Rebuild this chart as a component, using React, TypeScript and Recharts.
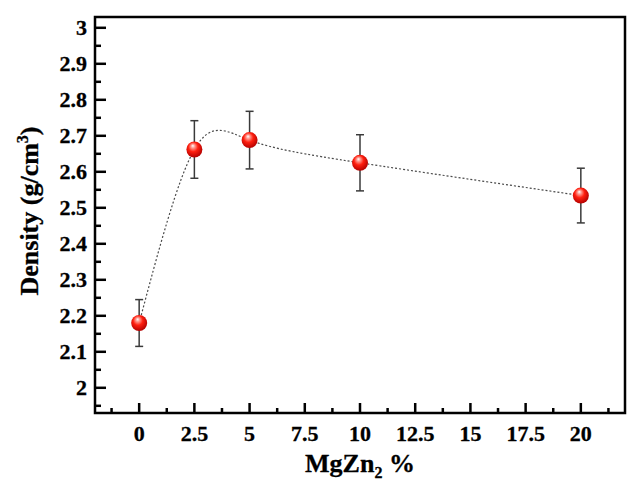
import React from 'react';
import { LineChart, Line, XAxis, YAxis, ErrorBar, ReferenceArea, Label } from 'recharts';

// ---- data ----
const mgzn2 = [0, 2.5, 5, 10, 20];
const density = [2.18, 2.662, 2.688, 2.625, 2.534];
const densityErr = [0.065, 0.08, 0.08, 0.078, 0.076];

const xMajorTicks = [0, 2.5, 5, 7.5, 10, 12.5, 15, 17.5, 20];
const xMinorTicks = [-1.25, 1.25, 3.75, 6.25, 8.75, 11.25, 13.75, 16.25, 18.75, 21.25];
const yMajorTicks = [2, 2.1, 2.2, 2.3, 2.4, 2.5, 2.6, 2.7, 2.8, 2.9, 3];
const yMinorTicks = [1.95, 2.05, 2.15, 2.25, 2.35, 2.45, 2.55, 2.65, 2.75, 2.85, 2.95];
const xDomain = [-2, 22];
const yDomain = [1.93, 3.03];

const data = mgzn2.map((x, i) => ({ x, density: density[i], err: densityErr[i] }));

const FONT = '"Liberation Serif", "Times New Roman", serif';
const X_TICK_MARGIN = 28;
const Y_TICK_MARGIN = 8;

const isMajor = (v: number, majors: number[]) => majors.some((m) => Math.abs(m - v) < 1e-6);
const fmt = (v: number) => String(Math.round(v * 100) / 100);

const XTick = (props: any) => {
  const { x, y, payload } = props;
  const axisY = y - X_TICK_MARGIN;
  const major = isMajor(payload.value, xMajorTicks);
  return (
    <g>
      <line x1={x} x2={x} y1={axisY} y2={axisY - (major ? 10 : 5)} stroke="#000" strokeWidth={2.5} />
      {major && (
        <text x={x} y={y} textAnchor="middle" fontFamily={FONT} fontWeight="bold" fontSize={22} fill="#000" stroke="#000" strokeWidth={0.3}>
          {fmt(payload.value)}
        </text>
      )}
    </g>
  );
};

const YTick = (props: any) => {
  const { x, y, payload } = props;
  const axisX = x + Y_TICK_MARGIN;
  const major = isMajor(payload.value, yMajorTicks);
  return (
    <g>
      <line x1={axisX} x2={axisX + (major ? 11 : 6)} y1={y} y2={y} stroke="#000" strokeWidth={2.5} />
      {major && (
        <text x={x} y={y} dy={7} textAnchor="end" fontFamily={FONT} fontWeight="bold" fontSize={22} fill="#000" stroke="#000" strokeWidth={0.3}>
          {fmt(payload.value)}
        </text>
      )}
    </g>
  );
};

const XTitle = (props: any) => {
  const vb = props.viewBox;
  return (
    <text x={vb.x + vb.width / 2} y={vb.y + 58.5} textAnchor="middle" fontFamily={FONT} fontWeight="bold" fontSize={26} fill="#000" stroke="#000" strokeWidth={0.3}>
      MgZn
      <tspan fontSize={16} dy={6}>2</tspan>
      <tspan dy={-6}> %</tspan>
    </text>
  );
};

const YTitle = (props: any) => {
  const vb = props.viewBox;
  const cx = vb.x + 38;
  const cy = vb.y + vb.height / 2 - 4;
  return (
    <text x={cx} y={cy} transform={`rotate(-90 ${cx} ${cy})`} textAnchor="middle" fontFamily={FONT} fontWeight="bold" fontSize={26} fill="#000" stroke="#000" strokeWidth={0.3}>
      Density (g/cm
      <tspan fontSize={16} dy={-10}>3</tspan>
      <tspan dy={10}>)</tspan>
    </text>
  );
};

const SphereDot = (props: any) => {
  const { cx, cy, index } = props;
  const id = `sphere-grad-${index}`;
  return (
    <g key={id}>
      <defs>
        <radialGradient id={id} cx="0.45" cy="0.42" r="0.6" fx="0.4" fy="0.26">
          <stop offset="0" stopColor="#ffffff" />
          <stop offset="0.2" stopColor="#ff9a90" />
          <stop offset="0.5" stopColor="#ff2010" />
          <stop offset="1" stopColor="#b00000" />
        </radialGradient>
      </defs>
      <circle cx={cx} cy={cy} r={8} fill={`url(#${id})`} />
    </g>
  );
};

export default function App() {
  return (
    <div style={{ position: 'absolute', left: 0, top: 0, width: 640, height: 480, background: '#fff' }}>
      <LineChart width={640} height={480} data={data} margin={{ top: 17, right: 15, bottom: 0, left: 0 }}>
        <XAxis
          dataKey="x"
          type="number"
          domain={xDomain}
          ticks={[...xMinorTicks, ...xMajorTicks].sort((a, b) => a - b)}
          interval={0}
          height={67}
          axisLine={false}
          tickLine={false}
          tickSize={0}
          tickMargin={X_TICK_MARGIN}
          tick={<XTick />}
          allowDataOverflow
        >
          <Label content={<XTitle />} />
        </XAxis>
        <YAxis
          type="number"
          domain={yDomain}
          ticks={[...yMinorTicks, ...yMajorTicks].sort((a, b) => a - b)}
          interval={0}
          width={95}
          axisLine={false}
          tickLine={false}
          tickSize={0}
          tickMargin={Y_TICK_MARGIN}
          tick={<YTick />}
          allowDataOverflow
        >
          <Label content={<YTitle />} />
        </YAxis>
        <ReferenceArea
          x1={xDomain[0]}
          x2={xDomain[1]}
          y1={yDomain[0]}
          y2={yDomain[1]}
          fill="none"
          fillOpacity={0}
          stroke="#000"
          strokeWidth={2.5}
        />
        <Line
          dataKey="density"
          type="natural"
          stroke="#4a4a4a"
          strokeWidth={1.2}
          strokeDasharray="2 2"
          dot={SphereDot}
          activeDot={false}
          isAnimationActive={false}
        >
          <ErrorBar dataKey="err" direction="y" width={4} stroke="#3a3a3a" strokeWidth={1.5} isAnimationActive={false} />
        </Line>
      </LineChart>
    </div>
  );
}
